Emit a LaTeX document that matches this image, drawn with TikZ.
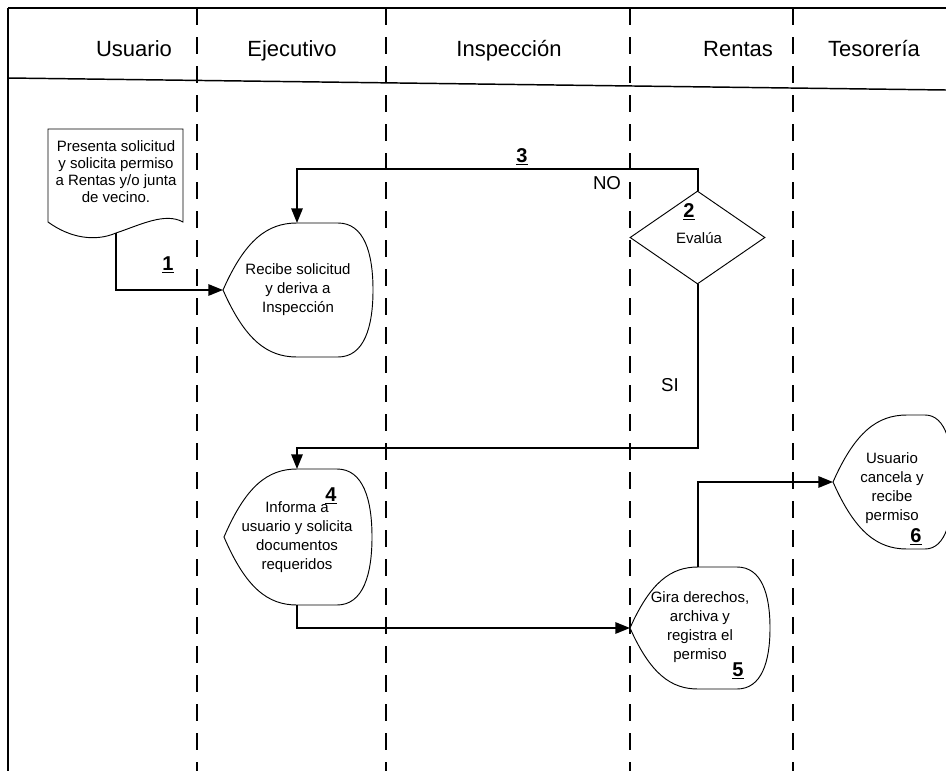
\documentclass[tikz,border=0pt]{standalone}
\usepackage{fontspec}
\setmainfont{Liberation Sans}
\usetikzlibrary{shapes.geometric,arrows.meta}

\tikzset{
  frame/.style={line width=1.1pt},
  lane/.style={line width=1.4pt, dash pattern=on 12.75pt off 9pt},
  outline/.style={line width=0.7pt, fill=white},
  conn/.style={line width=1.5pt, -{Triangle[length=11pt,width=8.5pt]}},
  head/.style={font=\fontsize{16.5}{20}\selectfont, anchor=base, inner sep=0pt},
  body/.style={font=\fontsize{11.25}{14.2}\selectfont, align=center, inner sep=0pt},
  num/.style={font=\bfseries\fontsize{15}{18}\selectfont, anchor=base, inner sep=0pt},
  tag/.style={font=\fontsize{14}{16}\selectfont, inner sep=0pt},
}

% Display-type process box: left point at (#2,#3), a = width of the left
% curve, f = flat part, b = right bulge, #7 = half height.
\newcommand{\flowdisp}[7]{%
  \begin{scope}[shift={(#2,#3)}]
    \draw[outline] (0,0) .. controls ({0.3*#4},{-0.75*#7}) and ({0.6*#4},-#7) .. (#4,-#7)
      -- ({#4+#5},-#7) .. controls ({#4+#5+0.75*#6},-#7) and ({#4+#5+#6},{-0.55*#7}) .. ({#4+#5+#6},0)
      .. controls ({#4+#5+#6},{0.55*#7}) and ({#4+#5+0.75*#6},#7) .. ({#4+#5},#7)
      -- (#4,#7) .. controls ({0.6*#4},#7) and ({0.3*#4},{0.75*#7}) .. cycle;
    \coordinate (#1-left) at (0,0);
    \coordinate (#1-top) at (#4,-#7);
    \coordinate (#1-bottom) at (#4,#7);
  \end{scope}}

\begin{document}
\begin{tikzpicture}[x=0.75pt, y=-0.75pt]
  \useasboundingbox (0,0) rectangle (946,771);
  \clip (0,0) rectangle (946,771);

  % frame and header
  \draw[line width=0.8pt] (8,771) -- (8,8);
  \draw[frame] (8,8) -- (946,8);
  \draw[frame] (8,78) -- (946,90);

  % swimlane separators
  \foreach \x in {197,386,630,793}
    \draw[lane] (\x,8) -- (\x,771);

  \node[head] (hUsuario)   at (134,56) {Usuario};
  \node[head] (hEjecutivo) at (292,56) {Ejecutivo};
  \node[head] (hInspeccion) at (509,56) {Inspección};
  \node[head] (hRentas)    at (738,56) {Rentas};
  \node[head] (hTesoreria) at (874,56) {Tesorería};

  % document: request
  \draw[outline] (48,129) -- (183,129) -- (183,222)
    .. controls (165,212) and (140,225) .. (116,233)
    .. controls (95,242) and (70,238) .. (48,222) -- cycle;
  \coordinate (doc-out) at (116,233);
  \node[body, font=\fontsize{11.25}{12.75}\selectfont] (tDoc) at (116,172)
    {Presenta solicitud\\y solicita permiso\\a Rentas y/o junta\\de vecino.};

  % process boxes
  \flowdisp{recibe}{223}{290}{74}{41}{35}{67}
  \node[body] (tRecibe) at (298,290) {Recibe solicitud\\y deriva a\\Inspección};

  \flowdisp{informa}{224}{537}{73}{40}{35}{68}
  \node[body] (tInforma) at (297,537) {Informa a\\usuario y solicita\\documentos\\requeridos};

  \flowdisp{gira}{630}{628}{68}{39}{33}{61}
  \node[body] (tGira) at (700,627) {Gira derechos,\\archiva y\\registra el\\permiso};

  \flowdisp{cancela}{833}{482}{74}{18}{28}{67}
  \node[body] (tCancela) at (892,488) {Usuario\\cancela y\\recibe\\permiso};

  % decision
  \node[draw, line width=0.7pt, fill=white, diamond, minimum width=101.25pt,
        minimum height=69.75pt, inner sep=0pt] (evalua) at (697.5,237.5) {};
  \node[body] (tEvalua) at (699,238) {Evalúa};

  % connectors
  \draw[conn] (doc-out) |- (recibe-left);
  \draw[conn] (evalua.north) -- ++(0,-22) -| (recibe-top);
  \draw[conn] (evalua.south) -- ++(0,164) -| (informa-top);
  \draw[conn] (informa-bottom) |- (gira-left);
  \draw[conn] (gira-top) |- (cancela-left);

  % branch labels
  \node[tag] (lNo) at (607,183) {NO};
  \node[tag] (lSi) at (670,385) {SI};

  % step numbers
  \node[num] (n1) at (168,270) {\underline{1}};
  \node[num] (n2) at (689,217) {\underline{2}};
  \node[num] (n3) at (522,162) {\underline{3}};
  \node[num] (n4) at (331,501) {\underline{4}};
  \node[num] (n5) at (738,676) {\underline{5}};
  \node[num] (n6) at (916,542) {\underline{6}};
\end{tikzpicture}
\end{document}
